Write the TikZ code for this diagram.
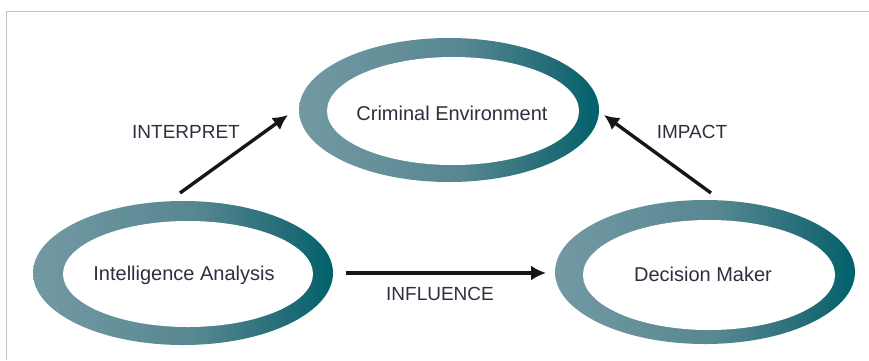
\documentclass[tikz,border=0pt]{standalone}
\usepackage{fontspec}
\setmainfont{Liberation Sans}
\usetikzlibrary{arrows.meta,shapes.geometric}
\definecolor{txt}{RGB}{45,48,62}
\definecolor{arrowc}{RGB}{22,22,22}
\definecolor{framec}{RGB}{192,192,192}
\pgfdeclarehorizontalshading{ringshade}{100bp}{rgb(0bp)=(0.45,0.60,0.64); rgb(25bp)=(0.45,0.60,0.64); rgb(52bp)=(0.34,0.53,0.57); rgb(66bp)=(0.15,0.43,0.47); rgb(75bp)=(0.0,0.38,0.42); rgb(100bp)=(0.0,0.38,0.42)}
\begin{document}
\begin{tikzpicture}[x=1pt,y=-1pt,
  ring/.style={ellipse, shading=ringshade, draw=none, inner sep=0pt, minimum width=300pt, minimum height=144pt},
  hole/.style={fill=white},
  nodetext/.style={text=txt, font=\fontsize{20}{24}\selectfont, inner sep=0pt},
  lbl/.style={text=txt, font=\fontsize{19}{23}\selectfont, inner sep=0pt},
  arr/.style={draw=arrowc, line width=3.4pt, -{Latex[length=15pt,width=15pt]}}]
\useasboundingbox (0,0) rectangle (869,360);
\draw[framec, line width=1pt] (6,360) -- (6,11) -- (869,11);
% rings
\node[ring] (ce) at (449,110) {};
\fill[hole] (453,111) ellipse [x radius=126, y radius=54];
\node[ring] (ia) at (183,273) {};
\fill[hole] (188,274) ellipse [x radius=125, y radius=53];
\node[ring] (dm) at (705,272) {};
\fill[hole] (709,275) ellipse [x radius=126, y radius=55];
% texts
\node[nodetext] (ceT) at (452,113) {Criminal Environment};
\node[nodetext] (iaT) at (184,275) {Intelligence Analysis};
\node[nodetext] (dmT) at (703,274) {Decision Maker};
\node[lbl] (l1) at (186,132) {INTERPRET};
\node[lbl] (l2) at (692,132) {IMPACT};
\node[lbl] (l3) at (440,294) {INFLUENCE};
% arrow ends
\coordinate (a1s) at (180,193);
\coordinate (a1e) at (288,115);
\coordinate (a2s) at (711,193);
\coordinate (a2e) at (604,115);
\coordinate (a3s) at (346,273);
\coordinate (a3e) at (546,273);
\draw[arr] (a1s) -- (a1e);
\draw[arr] (a2s) -- (a2e);
\draw[arr] (a3s) -- (a3e);
\end{tikzpicture}
\end{document}
